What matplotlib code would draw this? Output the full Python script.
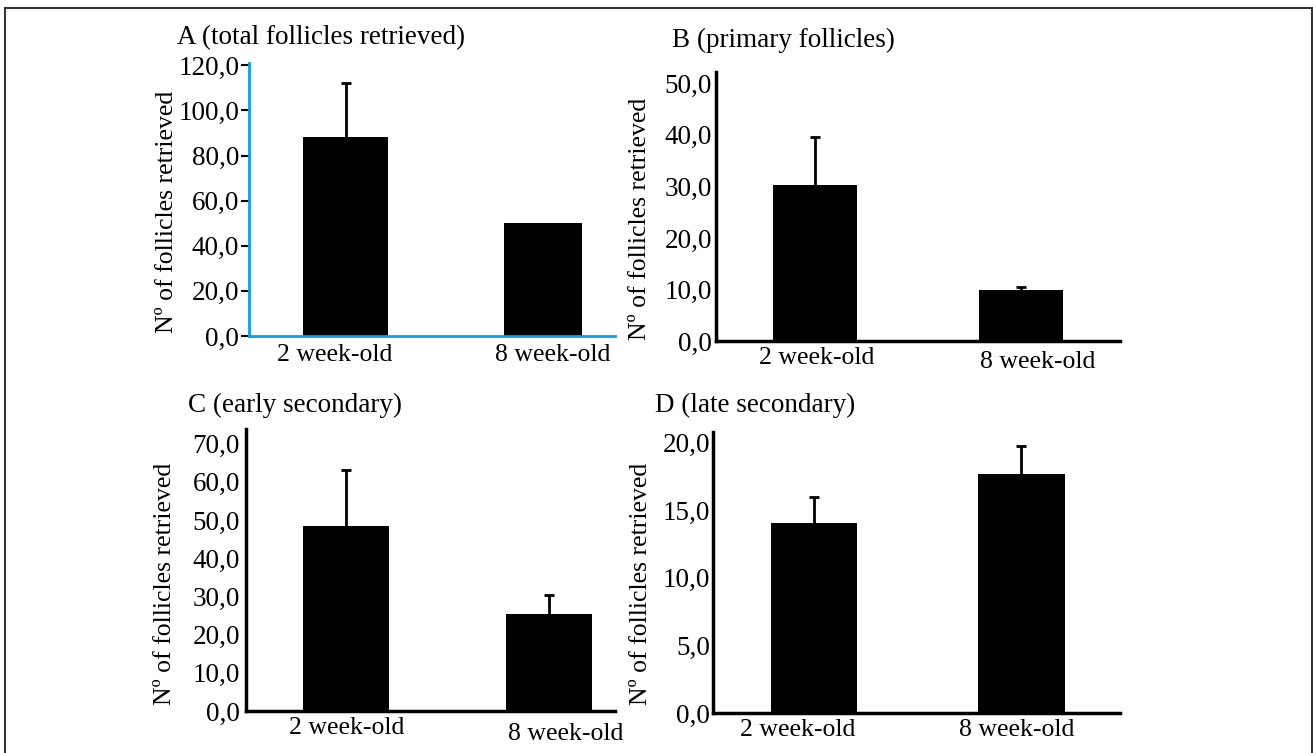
import matplotlib
matplotlib.use('Agg')
import matplotlib.pyplot as plt
import matplotlib.transforms as mtransforms
from matplotlib.lines import Line2D

# data
groups = ['2 week-old', '8 week-old']
means_a = [88.0, 50.0]
sd_a = [24.0, 0.0]
means_b = [30.2, 9.9]
sd_b = [9.4, 0.6]
means_c = [48.5, 25.5]
sd_c = [14.5, 4.8]
means_d = [14.1, 17.7]
sd_d = [1.9, 2.1]
titles = ['A (total follicles retrieved)', 'B (primary follicles)',
          'C (early secondary)', 'D (late secondary)']
ylabel = 'N\u00ba of follicles retrieved'

plt.rcParams['font.family'] = ['Liberation Serif', 'DejaVu Serif']

W, H = 1313, 753
fig = plt.figure(figsize=(W / 100, H / 100), dpi=100)


def rect(x0, y0, x1, y1):
    return [x0 / W, 1 - y1 / H, (x1 - x0) / W, (y1 - y0) / H]


def panel(box, means, sds, ylim, yticks, xlim, xtick_pos, width, axis_color,
          spine_w, tick_len, ypad, xpad, second_dy, title, title_xy, ylab_xy):
    ax = fig.add_axes(rect(*box))
    ax.bar([0, 1], means, width=width, color='black', zorder=2)
    # only the upper half of the error bar, and only where sd > 0
    xs = [i for i, s in enumerate(sds) if s > 0]
    eb = ax.errorbar(xs, [means[i] for i in xs],
                     yerr=[[0] * len(xs), [sds[i] for i in xs]],
                     fmt='none', ecolor='black', elinewidth=2, capsize=3.5,
                     capthick=2, zorder=1)
    eb[1][0].set_visible(False)
    ax.set_xlim(*xlim)
    ax.set_ylim(*ylim)
    ax.set_yticks(yticks)
    ax.set_yticklabels([f'{v:.1f}'.replace('.', ',') for v in yticks], fontsize=19.5)
    ax.set_xticks(xtick_pos)
    ax.set_xticklabels(groups, fontsize=18.5)
    for s in ['top', 'right']:
        ax.spines[s].set_visible(False)
    for s in ['left', 'bottom']:
        ax.spines[s].set_color(axis_color)
        ax.spines[s].set_linewidth(spine_w)
        ax.spines[s].set_zorder(3)
    ax.tick_params(axis='y', length=tick_len, width=1.5, color='black', pad=ypad)
    ax.tick_params(axis='x', length=0, pad=xpad)
    if second_dy:
        lab = ax.get_xticklabels()[1]
        off = mtransforms.ScaledTranslation(0, -second_dy / 72, fig.dpi_scale_trans)
        lab.set_transform(lab.get_transform() + off)
    fig.text(title_xy[0] / W, 1 - title_xy[1] / H, title, fontsize=19.5,
             ha='left', va='center')
    fig.text(ylab_xy[0] / W, 1 - ylab_xy[1] / H, ylabel, fontsize=18.5,
             rotation=90, ha='center', va='bottom')
    return ax


panel((249, 63, 615, 336), means_a, sd_a, (0, 121), [0, 20, 40, 60, 80, 100, 120],
      (-0.49, 1.365), [-0.056, 1.05], [0.43, 0.40], '#1a9ad9', 2, 6, 1, 6, 0,
      titles[0], (177, 38), (167, 333))
panel((716, 72, 1120, 341), means_b, sd_b, (0, 52.2), [0, 10, 20, 30, 40, 50],
      (-0.48, 1.48), [0.01, 1.08], 0.41, 'black', 2.5, 0, 3, 4, 3,
      titles[1], (672, 40), (640, 340))
panel((246, 429, 615, 711), means_c, sd_c, (0, 73.8), [0, 10, 20, 30, 40, 50, 60, 70],
      (-0.493, 1.325), [0.005, 1.08], 0.42, 'black', 2.5, 0, 4.3, 4.5, 4,
      titles[2], (188, 405), (165, 705))
panel((713, 432, 1120, 713), means_d, sd_d, (0, 20.8), [0, 5, 10, 15, 20],
      (-0.488, 1.478), [-0.08, 0.98], 0.42, 'black', 2.5, 0, 2, 4, 0,
      titles[3], (655, 405), (641, 705))

# outer frame (open at the bottom)
frame_c = '#333333'
fig.add_artist(Line2D([5 / W, 5 / W], [0, 1 - 8 / H], transform=fig.transFigure,
                      color=frame_c, lw=1.5))
fig.add_artist(Line2D([5 / W, 1311.5 / W], [1 - 8 / H, 1 - 8 / H],
                      transform=fig.transFigure, color=frame_c, lw=1.5))
fig.add_artist(Line2D([1311.5 / W, 1311.5 / W], [0, 1 - 8 / H],
                      transform=fig.transFigure, color=frame_c, lw=1.5))

fig.savefig('out.png', dpi=100)
plt.close(fig)
